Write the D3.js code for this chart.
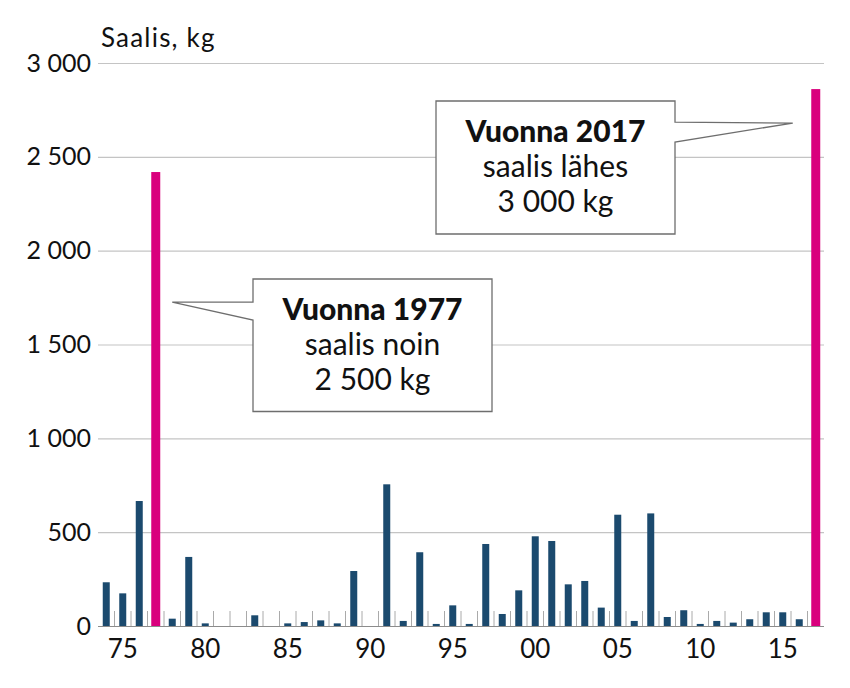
<!DOCTYPE html>
<html>
<head>
<meta charset="utf-8">
<script src="https://cdn.jsdelivr.net/npm/d3@7"></script>
<style>
  body { margin: 0; background: #fff; }
  svg { display: block; font-family: Lato, "Open Sans", sans-serif; }
</style>
</head>
<body>
<script>
// catch per year, kg
var years = d3.range(1974, 2018);
var catchKg = [233, 174, 666, 2419, 39, 368, 14, 0, 0, 57,
               0, 14, 21, 30, 14, 293, 0, 755, 27, 393,
               11, 110, 11, 437, 64, 190, 478, 453, 222, 240,
               98, 593, 27, 600, 48, 84, 11, 27, 18, 36,
               73, 73, 36, 2861];
var highlightYears = [1977, 2017];
var xTickYears = [1975, 1980, 1985, 1990, 1995, 2000, 2005, 2010, 2015];
var yTicks = [0, 500, 1000, 1500, 2000, 2500, 3000];
var yLabel = "Saalis, kg";

var notes = [
  {year: 2017, tip: 2680, lines: ["Vuonna 2017", "saalis lähes", "3 000 kg"]},
  {year: 1977, tip: 1726, lines: ["Vuonna 1977", "saalis noin", "2 500 kg"]}
];

var data = years.map(function(y, i) { return {year: y, value: catchKg[i]}; });

var width = 850, height = 688;
var plotLeft = 98, plotRight = 824, plotTop = 63, plotBottom = 626;

var x = d3.scaleBand().domain(years).range([plotLeft, plotRight]).padding(0);
var y = d3.scaleLinear().domain([0, 3000]).range([plotBottom, plotTop]);

var fmt = d3.formatLocale({decimal: ",", thousands: " ", grouping: [3], currency: ["", ""]}).format(",");

var svg = d3.select("body").append("svg")
    .attr("width", width)
    .attr("height", height);

// gridlines + y labels
var yAxis = svg.append("g")
    .attr("transform", "translate(" + plotLeft + ",0)")
    .call(d3.axisLeft(y).tickValues(yTicks).tickFormat(fmt)
      .tickSize(-(plotRight - plotLeft)).tickPadding(7));
yAxis.select(".domain").remove();
yAxis.selectAll(".tick line")
    .attr("stroke", function(d) { return d === 0 ? "#8c8c8c" : "#c4c4c4"; })
    .attr("stroke-width", 1.2);
yAxis.selectAll(".tick text")
    .attr("fill", "#111")
    .style("font-size", "25px")
    .style("font-family", "Lato, sans-serif");

svg.append("text")
    .attr("x", 101)
    .attr("y", 47)
    .attr("fill", "#111")
    .style("font-size", "26px")
    .style("letter-spacing", "1.2px")
    .text(yLabel);

// small separators between years
svg.append("g").selectAll("line")
    .data(years.slice(1))
  .enter().append("line")
    .attr("x1", function(d) { return x(d); })
    .attr("x2", function(d) { return x(d); })
    .attr("y1", plotBottom - 15)
    .attr("y2", plotBottom)
    .attr("stroke", "#aaa")
    .attr("stroke-width", 1);

// bars
function barW(d) { return highlightYears.indexOf(d.year) >= 0 ? 9 : 7; }
svg.append("g").selectAll("rect")
    .data(data)
  .enter().append("rect")
    .attr("x", function(d) { return x(d.year) + x.bandwidth() / 2 - barW(d) / 2; })
    .attr("width", barW)
    .attr("y", function(d) { return y(d.value); })
    .attr("height", function(d) { return y(0) - y(d.value); })
    .attr("fill", function(d) { return highlightYears.indexOf(d.year) >= 0 ? "#d9007d" : "#1b4a6e"; });

// x labels
var xAxis = svg.append("g")
    .attr("transform", "translate(0," + plotBottom + ")")
    .call(d3.axisBottom(x).tickValues(xTickYears)
      .tickFormat(function(d) { return String(d).slice(2); })
      .tickSize(0).tickPadding(14));
xAxis.select(".domain").remove();
xAxis.selectAll(".tick text")
    .attr("fill", "#111")
    .style("font-size", "26px")
    .style("font-family", "Lato, sans-serif");

// callouts
function callout(n, box, side) {
  var tipX = x(n.year) + x.bandwidth() / 2 + (side === "right" ? -23 : 16.5);
  var tipY = y(n.tip);
  var g = svg.append("g");
  var p;
  if (side === "right") {
    p = "M" + box.x0 + "," + box.y0 + "H" + box.x1 + "V" + (tipY - 1) +
        "L" + tipX + "," + tipY + "L" + box.x1 + "," + (tipY + 19) +
        "V" + box.y1 + "H" + box.x0 + "Z";
  } else {
    p = "M" + box.x0 + "," + box.y0 + "H" + box.x1 + "V" + box.y1 + "H" + box.x0 +
        "V" + (tipY + 18) + "L" + tipX + "," + tipY + "H" + box.x0 + "Z";
  }
  g.append("path")
      .attr("d", p)
      .attr("fill", "#fff")
      .attr("stroke", "#6e6e6e")
      .attr("stroke-width", 1.3);
  var cx = (box.x0 + box.x1) / 2;
  g.selectAll("text")
      .data(n.lines)
    .enter().append("text")
      .attr("x", cx)
      .attr("y", function(d, i) { return box.y0 + 41 + i * 35; })
      .attr("text-anchor", "middle")
      .attr("fill", "#111")
      .style("font-size", "30px")
      .style("font-weight", function(d, i) { return i === 0 ? 900 : 400; })
      .text(function(d) { return d; });
}

callout(notes[0], {x0: 436, x1: 675, y0: 101, y1: 234}, "right");
callout(notes[1], {x0: 253, x1: 492, y0: 279, y1: 411.5}, "left");
</script>
</body>
</html>
